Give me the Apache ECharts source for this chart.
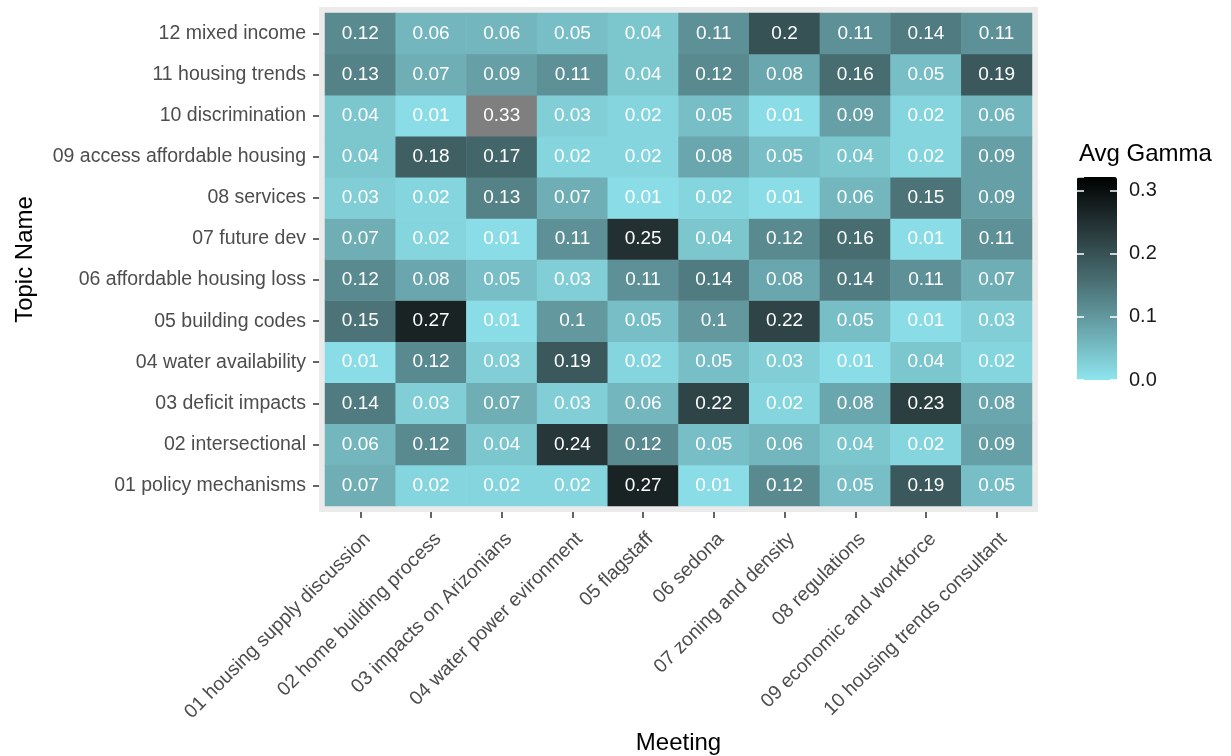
<!DOCTYPE html>
<html>
<head>
<meta charset="utf-8">
<script src="https://cdn.jsdelivr.net/npm/echarts@6/dist/echarts.min.js"></script>
<style>
  html, body { margin: 0; padding: 0; background: #ffffff; }
  #chart { width: 1231px; height: 756px; }
</style>
</head>
<body>
<div id="chart"></div>
<script>
// meetings (x) and topics (y, bottom to top)
const meetings = [
  '01 housing supply discussion', '02 home building process', '03 impacts on Arizonians',
  '04 water power evironment', '05 flagstaff', '06 sedona', '07 zoning and density',
  '08 regulations', '09 economic and workforce', '10 housing trends consultant'
];
const topics = [
  '01 policy mechanisms', '02 intersectional', '03 deficit impacts', '04 water availability',
  '05 building codes', '06 affordable housing loss', '07 future dev', '08 services',
  '09 access affordable housing', '10 discrimination', '11 housing trends', '12 mixed income'
];

// avg gamma per topic, one value per meeting
const policyMechanisms = [0.07, 0.02, 0.02, 0.02, 0.27, 0.01, 0.12, 0.05, 0.19, 0.05];
const intersectional = [0.06, 0.12, 0.04, 0.24, 0.12, 0.05, 0.06, 0.04, 0.02, 0.09];
const deficitImpacts = [0.14, 0.03, 0.07, 0.03, 0.06, 0.22, 0.02, 0.08, 0.23, 0.08];
const waterAvailability = [0.01, 0.12, 0.03, 0.19, 0.02, 0.05, 0.03, 0.01, 0.04, 0.02];
const buildingCodes = [0.15, 0.27, 0.01, 0.1, 0.05, 0.1, 0.22, 0.05, 0.01, 0.03];
const affordableLoss = [0.12, 0.08, 0.05, 0.03, 0.11, 0.14, 0.08, 0.14, 0.11, 0.07];
const futureDev = [0.07, 0.02, 0.01, 0.11, 0.25, 0.04, 0.12, 0.16, 0.01, 0.11];
const services = [0.03, 0.02, 0.13, 0.07, 0.01, 0.02, 0.01, 0.06, 0.15, 0.09];
const accessAffordable = [0.04, 0.18, 0.17, 0.02, 0.02, 0.08, 0.05, 0.04, 0.02, 0.09];
const discrimination = [0.04, 0.01, 0.33, 0.03, 0.02, 0.05, 0.01, 0.09, 0.02, 0.06];
const housingTrends = [0.13, 0.07, 0.09, 0.11, 0.04, 0.12, 0.08, 0.16, 0.05, 0.19];
const mixedIncome = [0.12, 0.06, 0.06, 0.05, 0.04, 0.11, 0.2, 0.11, 0.14, 0.11];

const rows = [policyMechanisms, intersectional, deficitImpacts, waterAvailability, buildingCodes,
  affordableLoss, futureDev, services, accessAffordable, discrimination, housingTrends, mixedIncome];

const legendTicks = [0, 0.1, 0.2, 0.3];
const legendMax = 0.322;

const cells = [];
rows.forEach((row, y) => row.forEach((v, x) => cells.push([x, y, v])));

const chart = echarts.init(document.getElementById('chart'));
const font = 'Liberation Sans, Arial, sans-serif';
// invisible axis line, ticks still drawn
const hiddenLine = { show: true, lineStyle: { color: 'rgba(0,0,0,0)' } };

chart.setOption({
  backgroundColor: '#ffffff',
  animation: false,
  textStyle: { fontFamily: font },
  title: {
    text: 'Avg Gamma',
    left: 1074,
    top: 137,
    textStyle: { fontFamily: font, fontSize: 24, fontWeight: 'normal', color: '#000000' }
  },
  grid: [{
    left: 325,
    right: 199,
    top: 13,
    bottom: 250,
    outerBoundsMode: 'none',
    show: true,
    backgroundColor: '#EBEBEB',
    borderColor: '#EBEBEB',
    borderWidth: 12
  }, {
    left: 1077,
    top: 177,
    width: 40,
    height: 203,
    outerBoundsMode: 'none'
  }],
  xAxis: [{
    type: 'category',
    data: meetings,
    gridIndex: 0,
    offset: 6,
    z: 5,
    name: 'Meeting',
    nameLocation: 'middle',
    nameGap: 219,
    nameTextStyle: { fontFamily: font, fontSize: 24, color: '#000000' },
    axisLine: hiddenLine,
    axisTick: { show: true, alignWithLabel: true, length: 6, lineStyle: { color: '#333333', width: 1.5 } },
    axisLabel: {
      rotate: 45, interval: 0, margin: 17, verticalAlign: 'top',
      fontSize: 19.5, color: '#4D4D4D', fontFamily: font
    },
    splitLine: { show: false }
  }, {
    type: 'value',
    gridIndex: 1,
    show: false
  }],
  yAxis: [{
    type: 'category',
    data: topics,
    gridIndex: 0,
    offset: 6,
    z: 5,
    name: 'Topic Name',
    nameLocation: 'middle',
    nameGap: 282,
    nameRotate: 90,
    nameTextStyle: { fontFamily: font, fontSize: 24, color: '#000000' },
    axisLine: hiddenLine,
    axisTick: { show: true, alignWithLabel: true, length: 6, lineStyle: { color: '#333333', width: 1.5 } },
    axisLabel: { interval: 0, margin: 13, fontSize: 19.5, color: '#4D4D4D', fontFamily: font },
    splitLine: { show: false }
  }, {
    type: 'value',
    gridIndex: 1,
    position: 'left',
    min: 0,
    max: legendMax,
    interval: 0.1,
    z: 10,
    axisLine: hiddenLine,
    axisTick: { show: true, inside: true, length: 7, lineStyle: { color: '#ffffff', width: 1.5 } },
    axisLabel: { show: false },
    splitLine: { show: false }
  }, {
    type: 'value',
    gridIndex: 1,
    position: 'right',
    min: 0,
    max: legendMax,
    interval: 0.1,
    z: 10,
    axisLine: hiddenLine,
    axisTick: { show: true, inside: true, length: 7, lineStyle: { color: '#ffffff', width: 1.5 } },
    axisLabel: {
      margin: 12,
      fontSize: 20,
      color: '#1A1A1A',
      fontFamily: font,
      formatter: v => legendTicks.indexOf(Math.round(v * 10) / 10) >= 0 ? v.toFixed(1) : ''
    },
    splitLine: { show: false }
  }],
  visualMap: {
    type: 'continuous',
    seriesIndex: 0,
    min: 0,
    max: legendMax,
    // range a hair below max so values above the scale get the grey NA colour
    range: [0, legendMax - 0.0001],
    calculable: false,
    hoverLink: false,
    realtime: false,
    left: 1077,
    top: 177,
    itemWidth: 40,
    itemHeight: 203,
    padding: 0,
    text: null,
    showLabel: false,
    inRange: { color: ['#8EE5EE', '#6AA6AD', '#476C70', '#263638', '#000000'] },
    outOfRange: { color: '#7F7F7F' }
  },
  series: [{
    type: 'heatmap',
    xAxisIndex: 0,
    yAxisIndex: 0,
    data: cells,
    itemStyle: { borderWidth: 0 },
    label: {
      show: true,
      color: '#ffffff',
      fontSize: 19,
      fontFamily: font,
      formatter: p => String(p.value[2])
    },
    emphasis: { disabled: true }
  }]
});
</script>
</body>
</html>
